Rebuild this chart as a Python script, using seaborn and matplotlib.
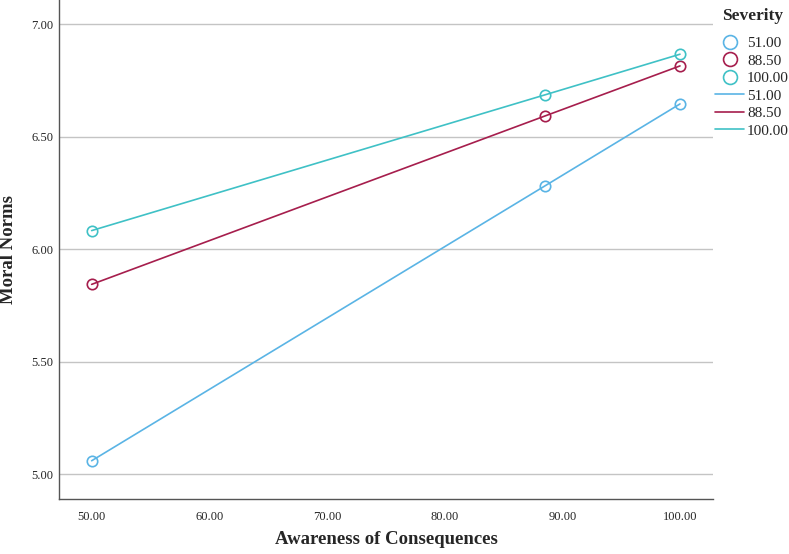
import matplotlib
matplotlib.use("Agg")
import matplotlib.pyplot as plt
from matplotlib.lines import Line2D
import seaborn as sns
import pandas as pd

awareness = [50.0, 88.5, 100.0]
severity_levels = ["51.00", "88.50", "100.00"]
norms_51 = [5.06, 6.281, 6.646]
norms_88 = [5.844, 6.592, 6.815]
norms_100 = [6.083, 6.686, 6.867]
x_ticks = [50, 60, 70, 80, 90, 100]
y_ticks = [5.0, 5.5, 6.0, 6.5, 7.0]

colors = ["#5AB4E5", "#A61E4D", "#3FC1C6"]

rows = []
for lev, vals in zip(severity_levels, [norms_51, norms_88, norms_100]):
    for a, v in zip(awareness, vals):
        rows.append({"Awareness": a, "Norms": v, "Severity": lev})
df = pd.DataFrame(rows)

sns.set_style("white")
plt.rcParams["font.family"] = ["Liberation Serif", "DejaVu Serif"]

W, H = 789, 554
fig = plt.figure(figsize=(W / 100, H / 100), dpi=100)
ax = fig.add_axes([59.3 / W, 1 - 499 / H, (712.7 - 59.3) / W, 499 / H])

palette = dict(zip(severity_levels, colors))
sns.lineplot(data=df, x="Awareness", y="Norms", hue="Severity", palette=palette,
             hue_order=severity_levels, marker="o", markersize=7.5,
             markerfacecolor="none", markeredgewidth=1.2, linewidth=1.2,
             ax=ax, legend=False)
for line, c in zip(ax.get_lines(), colors):
    line.set_markeredgecolor(c)

ax.set_xlim(47.25, 102.78)
ax.set_ylim(4.89, 7.108)
ax.set_xticks(x_ticks)
ax.set_xticklabels([f"{t:.2f}" for t in x_ticks], fontsize=9)
ax.set_yticks(y_ticks)
ax.set_yticklabels([f"{t:.2f}" for t in y_ticks], fontsize=9)
ax.tick_params(axis="both", length=0)
ax.tick_params(axis="x", pad=9)
ax.tick_params(axis="y", pad=4)
ax.yaxis.grid(True, color="#C4C4C4", linewidth=1.0)
ax.xaxis.grid(False)
ax.set_axisbelow(True)
for s in ["top", "right"]:
    ax.spines[s].set_visible(False)
for s in ["left", "bottom"]:
    ax.spines[s].set_color("#555555")
    ax.spines[s].set_linewidth(1.0)
ax.set_xlabel("")
ax.set_ylabel("")

fig.text(386 / W, 1 - 540 / H, "Awareness of Consequences", fontsize=13.5,
         fontweight="bold", ha="center", va="center")
fig.text(9 / W, 1 - 249.5 / H, "Moral Norms", fontsize=13.5, fontweight="bold",
         ha="center", va="center", rotation=90)

# legend title
fig.text(722 / W, 1 - 16 / H, "Severity", fontsize=12.5, fontweight="bold",
         ha="left", va="center")

handles = []
labels = []
for lev, c in zip(severity_levels, colors):
    handles.append(Line2D([], [], linestyle="none", marker="o", markersize=10,
                          markerfacecolor="none", markeredgecolor=c, markeredgewidth=1.2))
    labels.append(lev)
for lev, c in zip(severity_levels, colors):
    handles.append(Line2D([], [], color=c, linewidth=1.2))
    labels.append(lev)

leg = fig.legend(handles, labels, loc="upper left",
                 bbox_to_anchor=(715 / W, 1 - 36.5 / H), frameon=False, fontsize=11,
                 handlelength=1.9, handletextpad=0.2, labelspacing=0.25,
                 borderaxespad=0, borderpad=0)

fig.savefig("out.png", dpi=100)
